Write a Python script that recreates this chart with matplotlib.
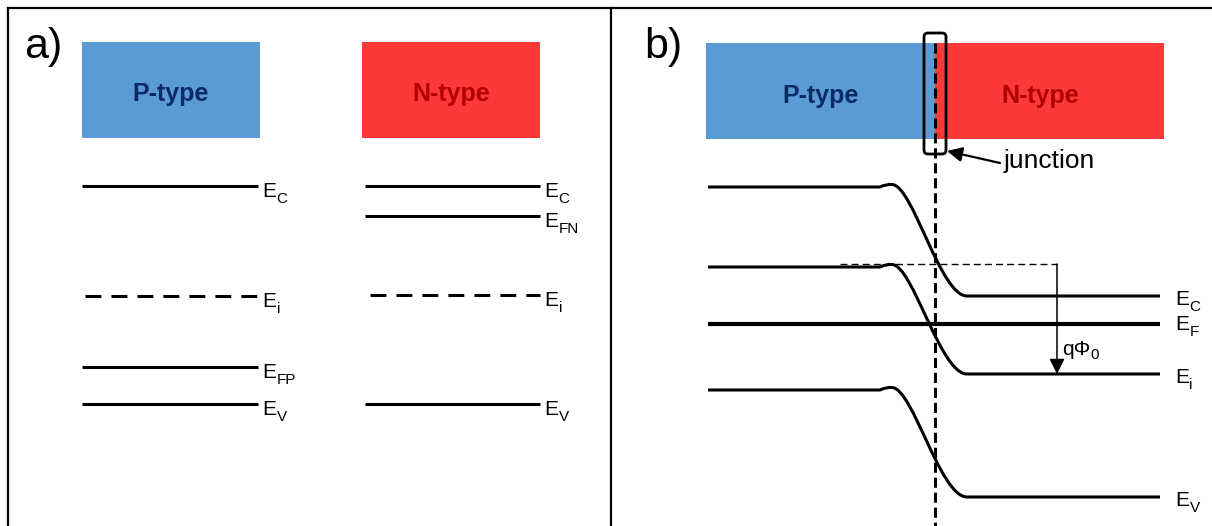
import numpy as np
import matplotlib.pyplot as plt
from matplotlib.patches import Rectangle, FancyBboxPatch, PathPatch
from matplotlib.path import Path

plt.rcParams['font.family'] = ['Liberation Sans', 'DejaVu Sans']

# energy levels (drawing units, y grows downwards)
a_p_names = ['C', 'i', 'FP', 'V']
a_p_levels = [186, 296, 367, 404]
a_p_dashed = [False, True, False, False]
a_n_names = ['C', 'FN', 'i', 'V']
a_n_levels = [186, 216, 295, 404]
a_n_dashed = [False, False, True, False]

b_bent_names = ['C', 'i', 'V']
b_bent_p = [187, 267, 390]
b_bent_n = [296, 374, 497]
b_fermi = 324
junction_x = 935

blue = '#5b9bd5'
red = '#fc3838'

fig = plt.figure(figsize=(12.12, 5.26), dpi=100)
ax = fig.add_axes([0, 0, 1, 1])
ax.set_xlim(0, 1212)
ax.set_ylim(526, 0)
ax.axis('off')
renderer = fig.canvas.get_renderer()

# frame
ax.plot([8, 1212], [8, 8], color='k', lw=1.6)
ax.plot([8, 8], [8, 526], color='k', lw=1.6)
ax.plot([611, 611], [8, 526], color='k', lw=1.6)


def sub_label(x, y, main, sub, fs=15, sfs=11, drop=6):
    # main text on baseline y, subscript lowered by drop pixels
    t = ax.text(x, y, main, fontsize=fs, va='baseline', ha='left')
    bb = t.get_window_extent(renderer)
    ax.text(bb.x1 + 0.5, y + drop, sub, fontsize=sfs, va='baseline', ha='left')


# ---------------- panel a ----------------
ax.text(24, 58, 'a)', fontsize=31, va='baseline')
ax.add_patch(Rectangle((82, 42), 178, 96, facecolor=blue, edgecolor='none'))
ax.add_patch(Rectangle((362, 42), 178, 96, facecolor=red, edgecolor='none'))
ax.text(171, 101, 'P-type', fontsize=18, fontweight='bold', color='#0c2a66',
        ha='center', va='baseline')
ax.text(451, 101, 'N-type', fontsize=18, fontweight='bold', color='#b00000',
        ha='center', va='baseline')

dash_a = (0, (5.2, 3.3))
for name, lev, dash in zip(a_p_names, a_p_levels, a_p_dashed):
    if dash:
        ax.plot([85, 258], [lev, lev], color='k', lw=2.2, ls=dash_a, dash_capstyle='butt')
    else:
        ax.plot([82, 258], [lev, lev], color='k', lw=2.2, solid_capstyle='butt')
    sub_label(262, lev + 11, 'E', name)

for name, lev, dash in zip(a_n_names, a_n_levels, a_n_dashed):
    if dash:
        ax.plot([370, 540], [lev, lev], color='k', lw=2.2, ls=dash_a, dash_capstyle='butt')
    else:
        ax.plot([365, 540], [lev, lev], color='k', lw=2.2, solid_capstyle='butt')
    sub_label(544, lev + 11, 'E', name)

# ---------------- panel b ----------------
ax.text(644, 58, 'b)', fontsize=31, va='baseline')
ax.add_patch(Rectangle((706, 43), junction_x - 706, 96, facecolor=blue, edgecolor='none'))
ax.add_patch(Rectangle((junction_x, 43), 1164 - junction_x, 96, facecolor=red, edgecolor='none'))
ax.text(821, 103, 'P-type', fontsize=18, fontweight='bold', color='#0c2a66',
        ha='center', va='baseline')
ax.text(1040, 103, 'N-type', fontsize=18, fontweight='bold', color='#b00000',
        ha='center', va='baseline')

ax.plot([junction_x, junction_x], [43, 526], color='k', lw=2.2, ls=(0, (3.3, 1.6)))
ax.add_patch(FancyBboxPatch((924, 33), 22, 121, boxstyle='round,pad=0,rounding_size=4',
                            facecolor='none', edgecolor='k', lw=2.0))
ax.annotate('', xy=(947, 151), xytext=(1000, 163),
            arrowprops=dict(arrowstyle='-|>,head_length=0.45,head_width=0.22', lw=1.6,
                            color='k', mutation_scale=20, shrinkA=0, shrinkB=0))
ax.text(1004, 168, 'junction', fontsize=19, va='baseline')

# bent bands
for name, y0, y1 in zip(b_bent_names, b_bent_p, b_bent_n):
    verts = [(708, y0), (880, y0),
             (886, y0 - 3), (892, y0 - 2.5),
             (913, y0 - 2), (940, y1), (967, y1),
             (1160, y1)]
    codes = [Path.MOVETO, Path.LINETO,
             Path.CURVE3, Path.CURVE3,
             Path.CURVE4, Path.CURVE4, Path.CURVE4,
             Path.LINETO]
    ax.add_patch(PathPatch(Path(verts, codes), facecolor='none', edgecolor='k',
                           lw=2.2, capstyle='butt', joinstyle='round'))

ax.plot([708, 1160], [b_fermi, b_fermi], color='k', lw=3.0, solid_capstyle='butt')

for name, y1 in zip(b_bent_names, b_bent_n):
    sub_label(1175, y1 + 9, 'E', name)
sub_label(1175, b_fermi + 6, 'E', 'F')

# built-in potential
ax.plot([840, 1057], [b_bent_p[1] - 3, b_bent_p[1] - 3], color='k', lw=1.0, ls=(0, (5, 3)))
ax.annotate('', xy=(1057, b_bent_n[1]), xytext=(1057, b_bent_p[1] - 3),
            arrowprops=dict(arrowstyle='-|>,head_length=0.4,head_width=0.2', lw=1.1,
                            color='k', mutation_scale=23, shrinkA=0, shrinkB=0))
sub_label(1062, 355, 'qΦ', '0', drop=4)

plt.savefig('out.png', dpi=100)
